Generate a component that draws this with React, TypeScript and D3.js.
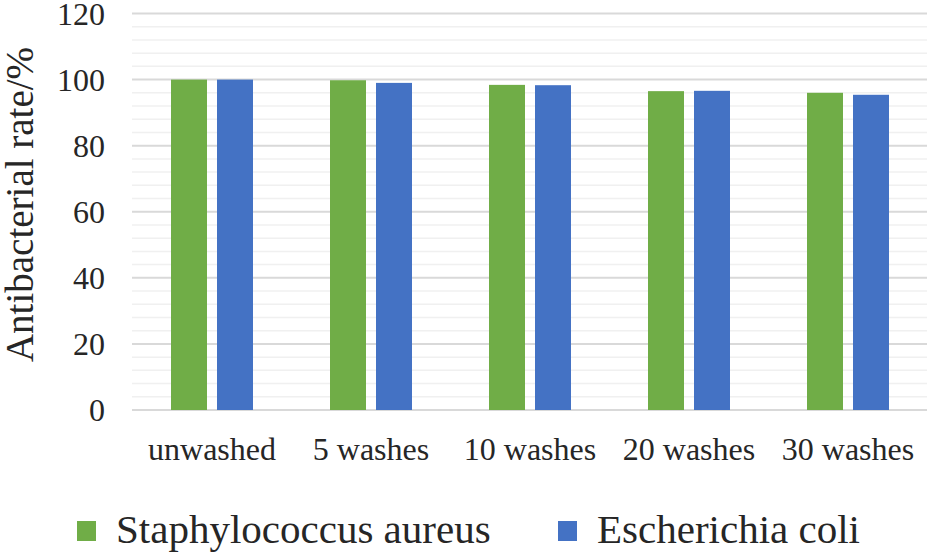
import React from "react";
import * as d3 from "d3";

const categories = ["unwashed", "5 washes", "10 washes", "20 washes", "30 washes"];
const seriesNames = ["Staphylococcus aureus", "Escherichia coli"];
const staphValues = [100, 99.8, 98.4, 96.5, 96.0];
const ecoliValues = [100, 99.0, 98.3, 96.6, 95.4];
const yTicks = [0, 20, 40, 60, 80, 100, 120];
const minorTicks = d3.range(0, 121, 4).filter((v) => v % 20 !== 0);
const colors = ["#70ad47", "#4472c4"];
const yTitle = "Antibacterial rate/%";

const W = 927;
const H = 553;
const FONT = "'Liberation Serif', 'Times New Roman', serif";

export default function App() {
  const x0 = d3.scaleBand<string>().domain(categories).range([132.5, 927.5]).paddingInner(0).paddingOuter(0);
  const y = d3.scaleLinear().domain([0, 120]).range([410, 13.5]);
  const groupW = 82;
  const x1 = d3.scaleBand<string>().domain(seriesNames).range([0, groupW]).paddingInner(10 / 46).paddingOuter(0);
  const seriesValues = [staphValues, ecoliValues];

  return (
    <div style={{ position: "absolute", left: 0, top: 0 }}>
      <svg width={W} height={H} style={{ display: "block", background: "#fff" }}>
        <rect x={0} y={0} width={W} height={H} fill="#fff" />
        {minorTicks.map((t) => (
          <line key={"m" + t} x1={132} x2={927} y1={y(t)} y2={y(t)} stroke="#f0f0f0" strokeWidth={1.5} />
        ))}
        {yTicks.map((t) => (
          <line key={"g" + t} x1={132} x2={927} y1={y(t)} y2={y(t)} stroke="#d9d9d9" strokeWidth={2} />
        ))}
        {yTicks.map((t) => (
          <text key={"t" + t} x={105} y={y(t)} dy="0.35em" textAnchor="end" fontFamily={FONT} fontSize={32} fill="#262626">
            {t}
          </text>
        ))}
        {categories.map((c, i) => {
          const cx = (x0(c) as number) + x0.bandwidth() / 2;
          return (
            <g key={c}>
              {seriesNames.map((s, j) => {
                const v = seriesValues[j][i];
                const bx = cx - groupW / 2 + (x1(s) as number);
                return (
                  <rect key={s} x={bx} y={y(v)} width={x1.bandwidth()} height={y(0) - y(v)} fill={colors[j]} />
                );
              })}
              <text x={cx} y={460} textAnchor="middle" fontFamily={FONT} fontSize={32} fill="#262626">
                {c}
              </text>
            </g>
          );
        })}
        <text
          transform={`translate(33, 204.5) rotate(-90)`}
          textAnchor="middle"
          fontFamily={FONT}
          fontSize={39}
          fill="#262626"
        >
          {yTitle}
        </text>
        {seriesNames.map((s, j) => {
          const lx = j === 0 ? 77 : 558;
          return (
            <g key={"leg" + s}>
              <rect x={lx} y={521} width={19} height={20} fill={colors[j]} />
              <text x={lx + 39} y={543} fontFamily={FONT} fontSize={41} fill="#262626">
                {s}
              </text>
            </g>
          );
        })}
      </svg>
    </div>
  );
}
